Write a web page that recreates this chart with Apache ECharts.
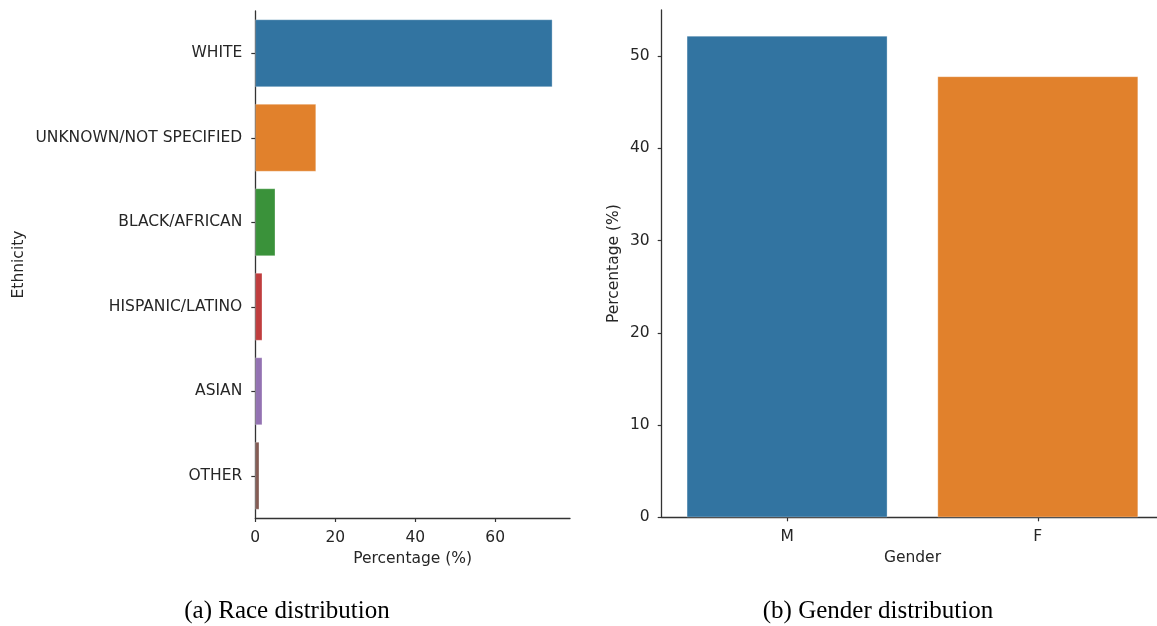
<!DOCTYPE html>
<html>
<head>
<meta charset="utf-8">
<script src="https://cdn.jsdelivr.net/npm/echarts@6/dist/echarts.min.js"></script>
<style>
  html, body { margin: 0; padding: 0; background: #ffffff; overflow: hidden; }
  /* the canvas runs a little past the right edge so the gender axis can extend beyond it */
  #chart { width: 1175px; height: 626px; }
</style>
</head>
<body>
<div id="chart"></div>
<script>
// Ethnicity breakdown (percent of patients)
const ethnicityCategories = ['WHITE', 'UNKNOWN/NOT SPECIFIED', 'BLACK/AFRICAN', 'HISPANIC/LATINO', 'ASIAN', 'OTHER'];
const ethnicityValues = [74.3, 15.2, 5.0, 1.75, 1.75, 1.0];
const ethnicityTicks = [0, 20, 40, 60];

// Gender breakdown (percent of patients)
const genderCategories = ['M', 'F'];
const genderValues = [52.2, 47.8];
const genderTicks = [0, 10, 20, 30, 40, 50];

// seaborn "deep" palette
const palette = ['#3274a1', '#e1812c', '#3a923a', '#c03d3e', '#9372b2', '#845b53'];

const textColor = '#262626';
const axisColor = '#333333';
const baseFont = 'DejaVu Sans';
const fontSize = 15.5;

function valueAxisStyle(ticks) {
  return {
    axisLine: { show: true, lineStyle: { color: axisColor, width: 1.3 } },
    axisTick: { show: true, length: 4, lineStyle: { color: axisColor, width: 1.2 }, customValues: ticks },
    axisLabel: { color: textColor, fontFamily: baseFont, fontSize: fontSize, margin: 12, customValues: ticks },
    splitLine: { show: false }
  };
}

const nameStyle = { color: textColor, fontFamily: baseFont, fontSize: fontSize };

const chart = echarts.init(document.getElementById('chart'), null, { renderer: 'canvas' });

chart.setOption({
  animation: false,
  backgroundColor: '#ffffff',
  textStyle: { fontFamily: baseFont },
  title: [
    {
      text: '(a) Race distribution',
      left: 282, top: 594, textAlign: 'center',
      textStyle: { fontFamily: 'Liberation Serif', fontWeight: 'normal', fontSize: 25, color: '#000000' }
    },
    {
      text: '(b) Gender distribution',
      left: 873, top: 594, textAlign: 'center',
      textStyle: { fontFamily: 'Liberation Serif', fontWeight: 'normal', fontSize: 25, color: '#000000' }
    }
  ],
  grid: [
    { left: 255.3, top: 11, width: 314.7, height: 507, containLabel: false },
    { left: 661.7, top: 10, width: 501.5, height: 507.3, containLabel: false }
  ],
  xAxis: [
    Object.assign({
      type: 'value', gridIndex: 0, min: 0, max: 78.7, interval: 20,
      name: 'Percentage (%)', nameLocation: 'middle', nameGap: 33,
      nameTextStyle: nameStyle
    }, valueAxisStyle(ethnicityTicks)),
    {
      type: 'category', gridIndex: 1, data: genderCategories,
      name: 'Gender', nameLocation: 'middle', nameGap: 33,
      nameTextStyle: nameStyle,
      axisLine: { show: true, lineStyle: { color: axisColor, width: 1.3 } },
      axisTick: { show: true, alignWithLabel: true, length: 4, lineStyle: { color: axisColor, width: 1.2 } },
      axisLabel: { color: textColor, fontFamily: baseFont, fontSize: fontSize, margin: 12 }
    }
  ],
  yAxis: [
    {
      type: 'category', gridIndex: 0, data: ethnicityCategories, inverse: true,
      name: 'Ethnicity', nameLocation: 'middle', nameGap: 228,
      nameTextStyle: nameStyle,
      axisLine: { show: true, lineStyle: { color: axisColor, width: 1.3 } },
      axisTick: { show: true, alignWithLabel: true, length: 4, lineStyle: { color: axisColor, width: 1.2 } },
      axisLabel: { color: textColor, fontFamily: baseFont, fontSize: fontSize, margin: 13 }
    },
    Object.assign({
      type: 'value', gridIndex: 1, min: 0, max: 55, interval: 10,
      name: 'Percentage (%)', nameLocation: 'middle', nameGap: 40,
      nameTextStyle: nameStyle
    }, valueAxisStyle(genderTicks))
  ],
  series: [
    {
      type: 'bar', xAxisIndex: 0, yAxisIndex: 0,
      barCategoryGap: '20%',
      data: ethnicityValues.map((v, i) => ({
        value: v,
        itemStyle: { color: palette[i % palette.length], borderColor: 'rgba(255,255,255,0.5)', borderWidth: 0.6 }
      }))
    },
    {
      type: 'bar', xAxisIndex: 1, yAxisIndex: 1,
      barCategoryGap: '20%',
      data: genderValues.map((v, i) => ({
        value: v,
        itemStyle: { color: palette[i % palette.length], borderColor: 'rgba(255,255,255,0.5)', borderWidth: 0.6 }
      }))
    }
  ]
});
</script>
</body>
</html>
